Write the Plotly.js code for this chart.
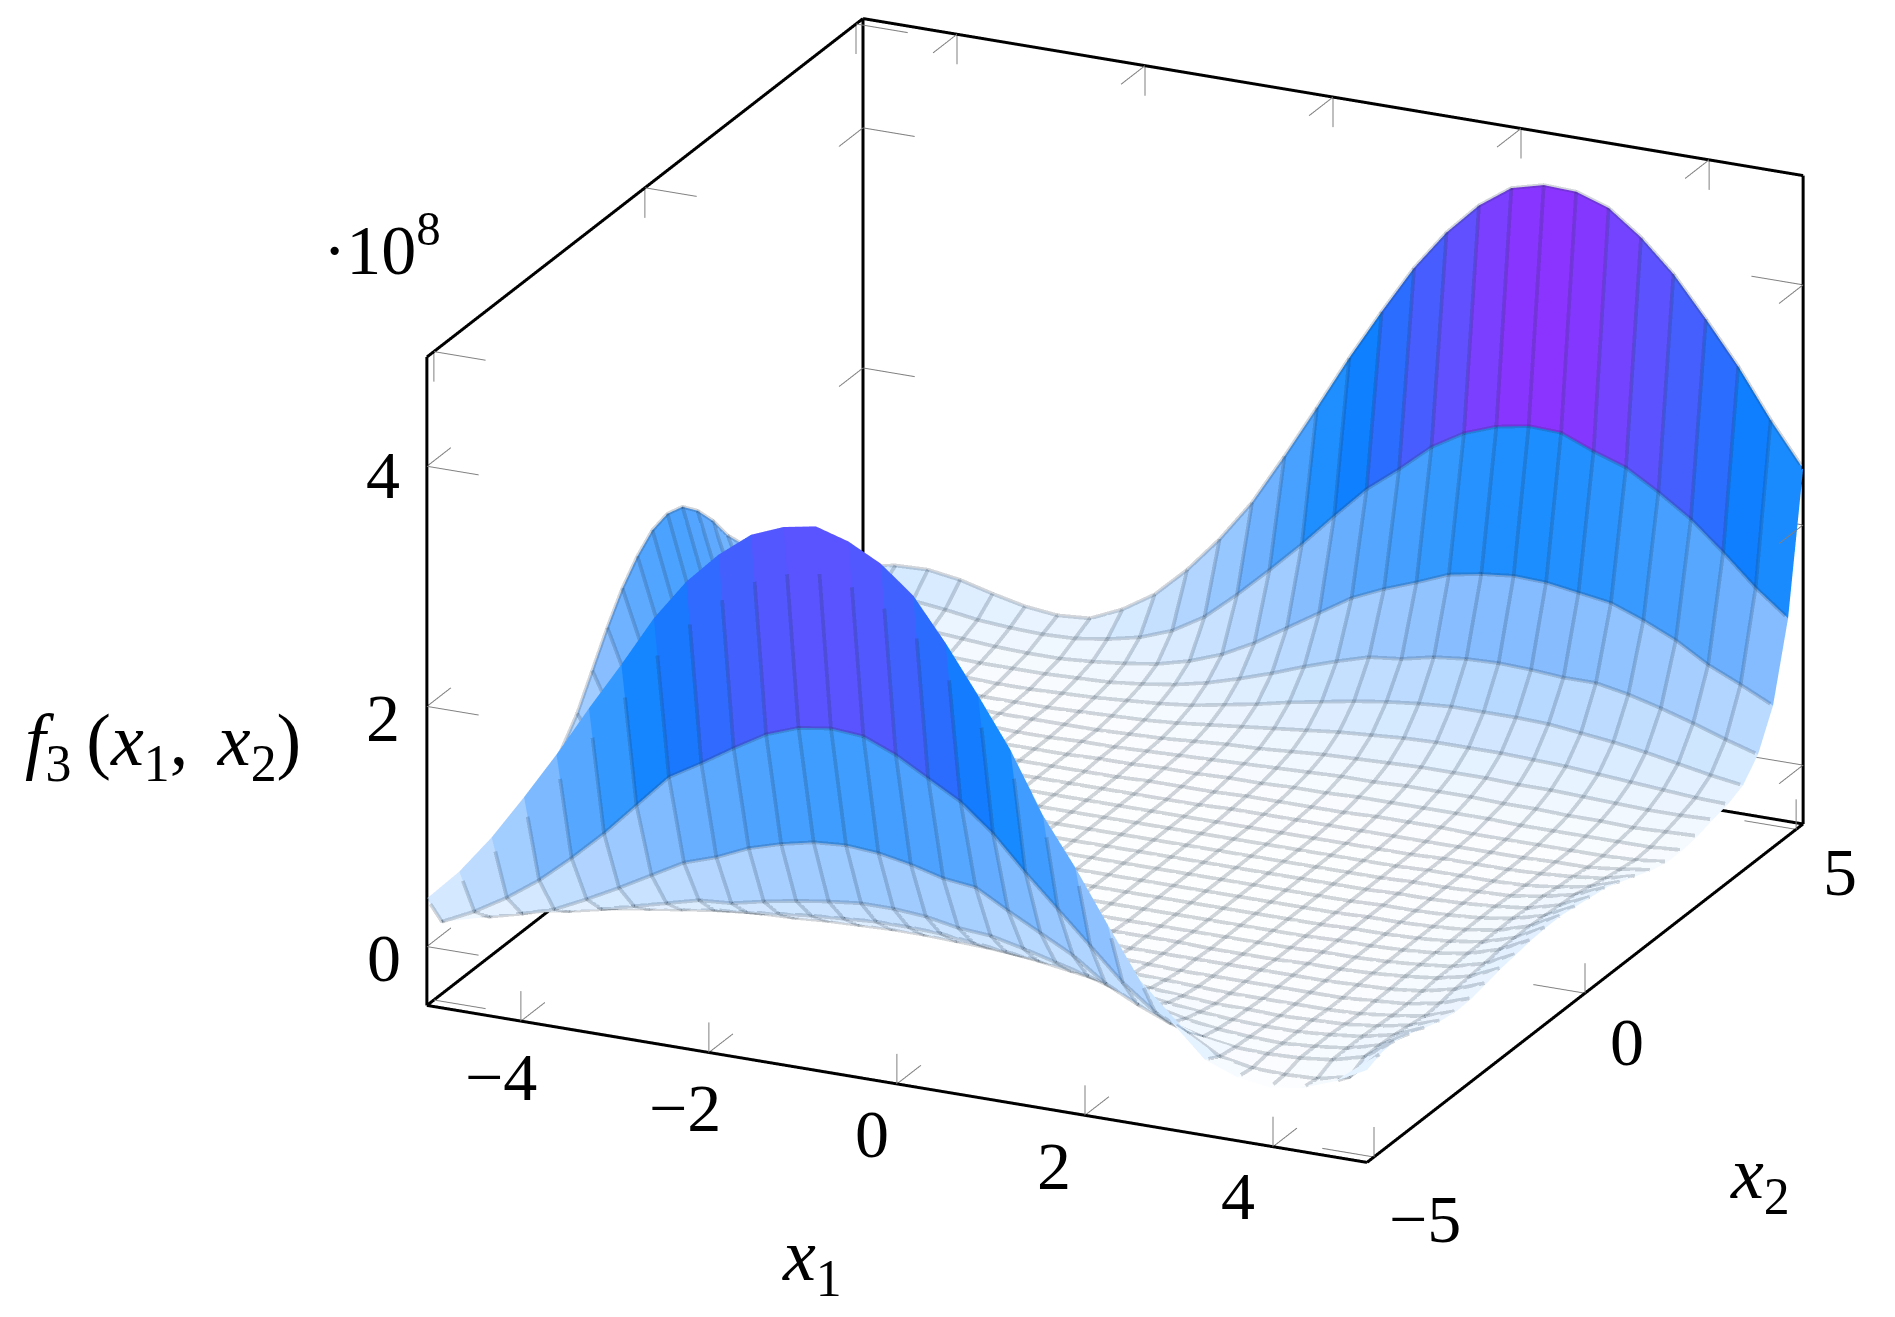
<!DOCTYPE html>
<html><head><meta charset="utf-8">
<script src="https://cdn.plot.ly/plotly-3.0.1.min.js"></script>
<style>html,body{margin:0;padding:0;background:#fff}#p{width:1895px;height:1317px}</style></head>
<body><div id="p"></div>
<script>
// x1 / x2 sample positions (30 samples from -5 to 5)
const x1Samples=[-5,-4.655,-4.31,-3.966,-3.621,-3.276,-2.931,-2.586,-2.241,-1.897,-1.552,-1.207,-0.862,-0.517,-0.172,0.172,0.517,0.862,1.207,1.552,1.897,2.241,2.586,2.931,3.276,3.621,3.966,4.31,4.655,5];
const x2Samples=x1Samples.slice();
// f3 in units of 1e8, one row per x2 sample
const f3Rows=[
[.40,.67,1.00,1.38,1.78,2.21,2.62,3.05,3.40,3.67,3.88,3.99,4.04,3.96,3.82,3.60,3.25,2.86,2.45,1.95,1.56,1.13,.71,.40,.14,.04,0,.04,.14,.28],
[.11,.24,.40,.59,.82,1.07,1.35,1.63,1.79,1.96,2.12,2.22,2.26,2.24,2.13,1.98,1.83,1.61,1.33,1.07,.81,.55,.35,.22,.07,.02,.01,.02,.08,.33],
[.10,.10,.17,.25,.38,.52,.67,.82,.91,1.03,1.11,1.17,1.19,1.17,1.12,1.05,1.02,.87,.73,.59,.40,.27,.16,.09,.05,.04,.05,.08,.15,.34],
[.10,.08,.10,.14,.20,.27,.34,.41,.43,.49,.54,.58,.61,.61,.59,.54,.52,.46,.39,.32,.24,.16,.10,.06,.04,.03,.05,.08,.15,.30],
[.11,.06,.06,.08,.11,.15,.19,.23,.26,.29,.32,.34,.36,.36,.35,.32,.29,.26,.22,.18,.13,.09,.06,.04,.03,.03,.05,.08,.14,.25],
[.14,.07,.05,.05,.07,.09,.11,.13,.15,.16,.18,.19,.20,.20,.19,.18,.16,.14,.12,.10,.07,.05,.03,.03,.02,.03,.04,.07,.12,.21],
[.22,.12,.07,.04,.04,.05,.06,.07,.08,.09,.10,.11,.11,.11,.11,.10,.09,.08,.07,.05,.04,.03,.02,.02,.02,.02,.03,.06,.10,.19],
[.35,.19,.11,.06,.04,.03,.04,.04,.05,.05,.06,.06,.06,.06,.06,.06,.05,.04,.04,.03,.02,.02,.02,.02,.02,.02,.04,.06,.11,.20],
[.55,.30,.17,.09,.05,.03,.03,.03,.03,.03,.03,.04,.04,.04,.03,.03,.03,.03,.02,.02,.02,.02,.02,.02,.02,.03,.04,.07,.13,.23],
[.78,.43,.23,.13,.07,.04,.03,.02,.02,.02,.02,.02,.02,.02,.02,.02,.02,.02,.02,.02,.01,.01,.01,.02,.02,.03,.05,.08,.14,.26],
[.97,.53,.29,.16,.09,.05,.03,.02,.02,.01,.01,.01,.01,.01,.01,.01,.01,.01,.01,.01,.01,.01,.01,.02,.02,.03,.05,.08,.15,.28],
[1.23,.68,.37,.21,.11,.06,.04,.02,.01,.01,.01,.01,.01,.01,.01,.01,.01,.01,.01,.01,.01,.01,.01,.02,.02,.03,.05,.09,.17,.30],
[1.49,.82,.45,.25,.13,.07,.04,.02,.01,.01,.01,.01,.01,.01,.01,.01,.01,.01,.01,.01,.01,.01,.01,.02,.02,.03,.05,.09,.17,.31],
[1.72,.95,.52,.29,.15,.09,.05,.03,.02,.01,.01,.01,.01,.01,.01,.01,.01,.01,.01,.01,.01,.01,.01,.02,.02,.03,.05,.09,.17,.31],
[1.89,1.04,.57,.32,.17,.09,.06,.03,.02,.01,.01,.01,.01,.01,.01,.01,.01,.01,.01,.01,.01,.01,.01,.02,.02,.03,.05,.09,.16,.29],
[2.01,1.11,.60,.34,.18,.10,.06,.03,.02,.01,.01,.01,.01,.01,.01,.01,.01,.01,.01,.01,.01,.01,.01,.02,.02,.03,.05,.08,.15,.27],
[2.05,1.13,.62,.35,.18,.10,.06,.03,.02,.01,.01,.01,.01,.01,.01,.01,.01,.01,.01,.01,.01,.01,.01,.02,.02,.03,.04,.08,.14,.25],
[2.01,1.11,.60,.34,.18,.10,.06,.03,.02,.01,.01,.01,.01,.01,.01,.01,.01,.01,.01,.01,.01,.01,.01,.02,.02,.02,.03,.06,.11,.20],
[1.88,1.03,.56,.32,.17,.09,.06,.03,.02,.01,.01,.01,.01,.01,.01,.01,.01,.01,.01,.01,.01,.01,.01,.02,.02,.02,.03,.05,.08,.15],
[1.70,.94,.51,.29,.15,.09,.05,.03,.01,.01,.01,.01,.01,.01,.01,.01,.02,.02,.02,.02,.02,.02,.02,.02,.02,.02,.03,.03,.06,.10],
[1.48,.81,.44,.25,.13,.07,.04,.02,.01,.01,.01,.01,.01,.02,.02,.02,.03,.03,.03,.03,.04,.04,.04,.03,.03,.03,.03,.03,.04,.07],
[1.31,.72,.39,.22,.12,.07,.04,.02,.01,.01,.01,.02,.02,.03,.03,.04,.04,.05,.05,.06,.06,.06,.06,.06,.05,.05,.05,.05,.05,.07],
[1.10,.61,.33,.19,.10,.06,.03,.02,.01,.01,.02,.02,.03,.04,.05,.06,.07,.08,.09,.09,.10,.10,.10,.09,.09,.08,.08,.07,.08,.09],
[.90,.50,.27,.15,.08,.05,.03,.02,.02,.02,.02,.03,.04,.06,.08,.09,.11,.13,.14,.15,.16,.16,.16,.15,.15,.14,.13,.12,.12,.13],
[.72,.40,.22,.12,.07,.04,.02,.02,.02,.03,.04,.05,.07,.10,.13,.16,.19,.22,.24,.26,.27,.27,.27,.26,.25,.23,.21,.19,.17,.16],
[.60,.33,.18,.10,.06,.04,.03,.03,.04,.05,.07,.09,.12,.17,.22,.28,.33,.38,.42,.45,.47,.47,.47,.46,.43,.40,.36,.31,.26,.22],
[.50,.28,.16,.10,.07,.06,.06,.06,.07,.08,.11,.15,.21,.29,.38,.48,.57,.65,.68,.74,.77,.78,.77,.75,.75,.70,.63,.55,.46,.38],
[.42,.25,.19,.14,.12,.10,.09,.09,.11,.14,.18,.25,.35,.49,.66,.83,1.00,1.12,1.22,1.33,1.38,1.41,1.40,1.36,1.32,1.22,1.10,.94,.82,.69],
[.36,.30,.25,.22,.18,.16,.15,.16,.20,.26,.36,.52,.75,1.00,1.26,1.54,1.81,2.02,2.25,2.41,2.51,2.56,2.55,2.44,2.35,2.19,2.01,1.78,1.53,1.32],
[.35,.40,.41,.37,.30,.24,.21,.23,.35,.52,.77,1.07,1.42,1.85,2.30,2.76,3.19,3.60,3.94,4.21,4.40,4.47,4.46,4.37,4.17,3.91,3.58,3.23,2.83,2.47]
];
const x1Ticks=[-4,-2,0,2,4];
const x2Ticks=[-5,0,5];
const zTicks=[0,2,4];
const zMin=-0.49, zMax=4.91, xyLim=5;
const colorStops=[[0,'#fdfeff'],[.2,'#e6f2ff'],[.45,'#c8e2ff'],[.9,'#9cc9ff'],[1.3,'#68aeff'],[1.76,'#3a9bff'],[2.0,'#1a8cff'],[2.34,'#0f7fff'],[2.6,'#2570ff'],[3.2,'#6050ff'],[3.55,'#9030ff']];
const cMax=3.55;

const pad=1.003;
const asp={x:1.755*pad,y:1.755*pad,z:1.177*pad};
const R=4, el=21.1*Math.PI/180;
const hx=.4208,hy=-.9071;
const eyeDir={x:hx*Math.cos(el),y:hy*Math.cos(el),z:Math.sin(el)};

// mesh
const n=x1Samples.length,m=x2Samples.length;
const X=[],Y=[],Z=[],I=[],J=[],K=[],C=[];
for(let b=0;b<m;b++)for(let a=0;a<n;a++){X.push(x1Samples[a]);Y.push(x2Samples[b]);Z.push(f3Rows[b][a]);}
for(let b=0;b<m-1;b++)for(let a=0;a<n-1;a++){
  const p=b*n+a,q=p+1,r=p+n,s=r+1;
  const v=(Z[p]+Z[q]+Z[r]+Z[s])/4;
  I.push(p,p);J.push(q,s);K.push(s,r);C.push(v,v);
}
const surf={type:'mesh3d',x:X,y:Y,z:Z,i:I,j:J,k:K,intensity:C,intensitymode:'cell',cmin:0,cmax:cMax,
  colorscale:colorStops.map(s=>[s[0]/cMax,s[1]]),showscale:false,flatshading:true,hoverinfo:'skip',
  lighting:{ambient:1,diffuse:0,specular:0,fresnel:0,roughness:1}};

// mesh lines, nudged toward the viewer along the view axis so they stay on top
const eps=0.04;
const ox=eps*eyeDir.x*(xyLim/asp.x),oy=eps*eyeDir.y*(xyLim/asp.y),oz=eps*eyeDir.z*((zMax-zMin)/(2*asp.z));
const lx=[],ly=[],lz=[];
for(let b=0;b<m;b++){for(let a=0;a<n;a++){lx.push(x1Samples[a]+ox);ly.push(x2Samples[b]+oy);lz.push(f3Rows[b][a]+oz);}lx.push(null);ly.push(null);lz.push(null);}
for(let a=0;a<n;a++){for(let b=0;b<m;b++){lx.push(x1Samples[a]+ox);ly.push(x2Samples[b]+oy);lz.push(f3Rows[b][a]+oz);}lx.push(null);ly.push(null);lz.push(null);}
const mesh={type:'scatter3d',mode:'lines',x:lx,y:ly,z:lz,opacity:.2,line:{color:'rgb(30,50,70)',width:7.5},hoverinfo:'skip',showlegend:false,connectgaps:false};

// frame
const L=xyLim;
const seg=(arr,x0,y0,z0,x1,y1,z1)=>{arr.x.push(x0,x1,null);arr.y.push(y0,y1,null);arr.z.push(z0,z1,null);};
const fr={x:[],y:[],z:[]};
seg(fr,-L,-L,zMin,L,-L,zMin);seg(fr,L,-L,zMin,L,L,zMin);seg(fr,L,L,zMin,-L,L,zMin);seg(fr,-L,L,zMin,-L,-L,zMin);
seg(fr,-L,-L,zMin,-L,-L,zMax);seg(fr,-L,L,zMin,-L,L,zMax);seg(fr,L,L,zMin,L,L,zMax);
seg(fr,-L,-L,zMax,-L,L,zMax);seg(fr,-L,L,zMax,L,L,zMax);
const frame={type:'scatter3d',mode:'lines',x:fr.x,y:fr.y,z:fr.z,line:{color:'#000',width:6},hoverinfo:'skip',showlegend:false,connectgaps:false};

// tick marks
const tk={x:[],y:[],z:[]};
const tx=.55,tz=.25,inset=.16;
x1Ticks.forEach(v=>{
  seg(tk,v,-L,zMin,v,-L+tx,zMin);seg(tk,v,-L,zMin,v,-L,zMin+tz);
  seg(tk,v,L,zMax,v,L-tx,zMax);seg(tk,v,L,zMax,v,L,zMax-tz);
});
x2Ticks.forEach(v=>{
  const w=v>0?v-inset:(v<0?v+inset:v);
  seg(tk,L,w,zMin,L-tx,w,zMin);seg(tk,L,w,zMin,L,w,zMin+tz);
  seg(tk,-L,w,zMax,-L+tx,w,zMax);seg(tk,-L,w,zMax,-L,w,zMax-tz);
  seg(tk,-L,w,zMin,-L+tx,w,zMin);
});
zTicks.forEach(v=>{
  seg(tk,-L,-L,v,-L+tx,-L,v);seg(tk,-L,-L,v,-L,-L+tx,v);
  seg(tk,-L,L,v,-L+tx,L,v);seg(tk,-L,L,v,-L,L-tx,v);
  seg(tk,L,L,v,L-tx,L,v);seg(tk,L,L,v,L,L-tx,v);
});
const ticks={type:'scatter3d',mode:'lines',x:tk.x,y:tk.y,z:tk.z,line:{color:'#808080',width:2},hoverinfo:'skip',showlegend:false,connectgaps:false};

const F='"Liberation Serif",serif', FS=68, TS=74;
const fmt=v=>v<0?'\u2212'+(-v):String(v);
const ax=(vals,rng)=>({range:rng,autorange:false,tickmode:'array',tickvals:vals,ticktext:vals.map(fmt),showticklabels:false,
  showgrid:false,zeroline:false,showline:false,showbackground:false,ticks:'',showspikes:false,title:{text:''}});
const P=(x,y,size)=>({x:x/1895,y:1-y/1317,xref:'paper',yref:'paper',showarrow:false,font:{family:F,size:size,color:'#000'},xanchor:'center',yanchor:'middle'});
const T=(x,y,z,v,dx,dy)=>({x:x,y:y,z:z,text:fmt(v),showarrow:false,font:{family:F,size:FS,color:'#000'},xanchor:'center',yanchor:'middle',xshift:dx,yshift:-dy});
const x1Shift=[[-20,56],[-24,55],[-25,50],[-31,51],[-35,49]];
const x2Shift=[[58,57],[42,49],[37,48]];
const zShift=[[-42,11],[-43,12],[-43,9]];
const labels=[].concat(
  x1Ticks.map((v,i)=>T(v,-L,zMin,v,x1Shift[i][0],x1Shift[i][1])),
  x2Ticks.map((v,i)=>T(L,v,zMin,v,x2Shift[i][0],x2Shift[i][1])),
  zTicks.map((v,i)=>T(-L,-L,v,v,zShift[i][0],zShift[i][1])));
const layout={width:1895,height:1317,margin:{l:0,r:0,t:0,b:0},paper_bgcolor:'#fff',showlegend:false,
  scene:{domain:{x:[364.6/1895,1864.6/1895],y:[1-1181/1317,1]},aspectmode:'manual',aspectratio:asp,
    camera:{projection:{type:'orthographic'},up:{x:0,y:0,z:1},center:{x:0,y:0,z:0},eye:{x:eyeDir.x*R,y:eyeDir.y*R,z:eyeDir.z*R}},
    xaxis:ax(x1Ticks,[-L*pad,L*pad]),yaxis:ax(x2Ticks,[-L*pad,L*pad]),
    zaxis:ax(zTicks,[(zMin+zMax)/2-(zMax-zMin)/2*pad,(zMin+zMax)/2+(zMax-zMin)/2*pad]),bgcolor:'#fff',annotations:labels},
  annotations:[
    Object.assign(P(382,245,FS+2),{text:'·10<sup>8</sup>'}),
    Object.assign(P(163,746,TS),{text:'<i>f</i><sub>3</sub>\u2009(<i>x</i><sub>1</sub>,\u2009\u2009<i>x</i><sub>2</sub>)'}),
    Object.assign(P(812,1260,TS),{text:'<i>x</i><sub>1</sub>'}),
    Object.assign(P(1760,1178,TS),{text:'<i>x</i><sub>2</sub>'})
  ]};
Plotly.newPlot('p',[surf,mesh,frame,ticks],layout,{displayModeBar:false});
</script></body></html>
